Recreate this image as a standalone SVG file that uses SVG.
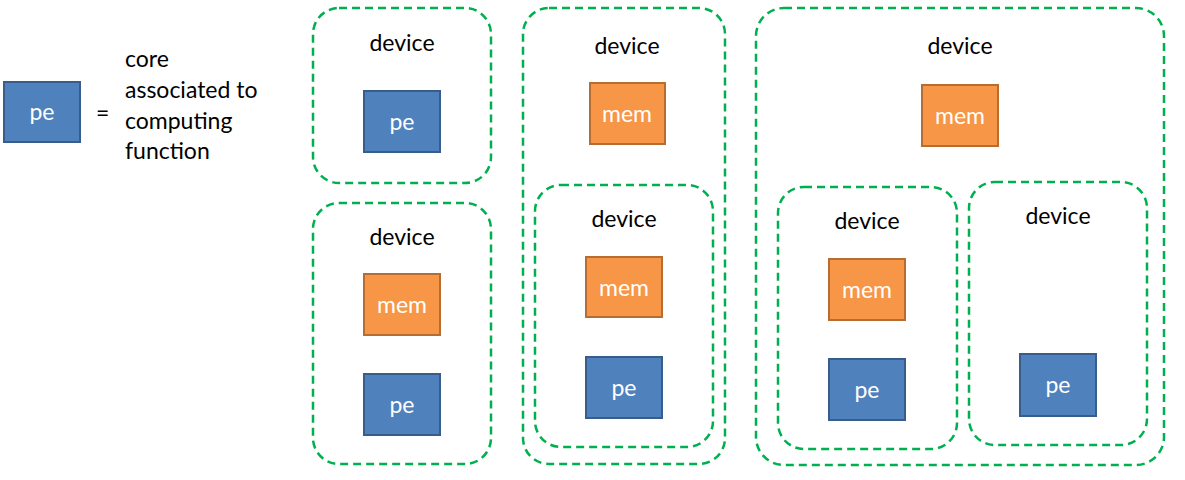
<svg xmlns="http://www.w3.org/2000/svg" width="1185" height="480" viewBox="0 0 1185 480">
<style>
.dev{fill:none;stroke:#00B050;stroke-width:2.5;stroke-dasharray:8 5}
.pe{fill:#4F81BD;stroke:#385D8A;stroke-width:2}
.mem{fill:#F79646;stroke:#B66D31;stroke-width:2}
.lbl{font-family:Lato,"Open Sans",sans-serif;font-size:23px;fill:#000}
.in{font-family:Lato,"Open Sans",sans-serif;font-size:23px;fill:#fff;text-anchor:middle}
.c{text-anchor:middle}
</style>
<rect width="1185" height="480" fill="#fff"/>
<g id="legend">
<rect class="pe" x="4" y="82" width="76" height="60"/>
<text class="in" x="42" y="120">pe</text>
<text class="lbl" x="96" y="121">=</text>
<text class="lbl" x="125" y="67">core</text>
<text class="lbl" x="125" y="98">associated to</text>
<text class="lbl" x="125" y="129">computing</text>
<text class="lbl" x="125" y="159">function</text>
</g>
<g id="device1">
<rect class="dev" x="313" y="8" width="178" height="175" rx="26"/>
<text class="lbl c" x="402" y="51">device</text>
<rect class="pe" x="364" y="91" width="76" height="61"/>
<text class="in" x="402" y="130">pe</text>
</g>
<g id="device2">
<rect class="dev" x="313" y="203" width="178" height="261" rx="26"/>
<text class="lbl c" x="402" y="245">device</text>
<rect class="mem" x="364" y="274" width="76" height="61"/>
<text class="in" x="402" y="313">mem</text>
<rect class="pe" x="364" y="374" width="76" height="61"/>
<text class="in" x="402" y="413">pe</text>
</g>
<g id="device3">
<rect class="dev" x="523" y="8" width="202" height="456" rx="26"/>
<text class="lbl c" x="627" y="54">device</text>
<rect class="mem" x="590" y="83" width="75" height="61"/>
<text class="in" x="627" y="122">mem</text>
</g>
<g id="device3-inner">
<rect class="dev" x="535" y="185" width="178" height="262" rx="26"/>
<text class="lbl c" x="624" y="227">device</text>
<rect class="mem" x="586" y="257" width="76" height="60"/>
<text class="in" x="624" y="296">mem</text>
<rect class="pe" x="586" y="357" width="76" height="61"/>
<text class="in" x="624" y="396">pe</text>
</g>
<g id="device4">
<rect class="dev" x="756" y="8" width="408" height="457" rx="28"/>
<text class="lbl c" x="960" y="54">device</text>
<rect class="mem" x="922" y="85" width="76" height="61"/>
<text class="in" x="960" y="124">mem</text>
</g>
<g id="device4-left">
<rect class="dev" x="778" y="187" width="179" height="262" rx="26"/>
<text class="lbl c" x="867" y="229">device</text>
<rect class="mem" x="829" y="259" width="76" height="61"/>
<text class="in" x="867" y="298">mem</text>
<rect class="pe" x="829" y="359" width="76" height="61"/>
<text class="in" x="867" y="398">pe</text>
</g>
<g id="device4-right">
<rect class="dev" x="969" y="182" width="178" height="263" rx="26"/>
<text class="lbl c" x="1058" y="224">device</text>
<rect class="pe" x="1020" y="354" width="76" height="62"/>
<text class="in" x="1058" y="393">pe</text>
</g>
<g id="connectors"/>
</svg>
